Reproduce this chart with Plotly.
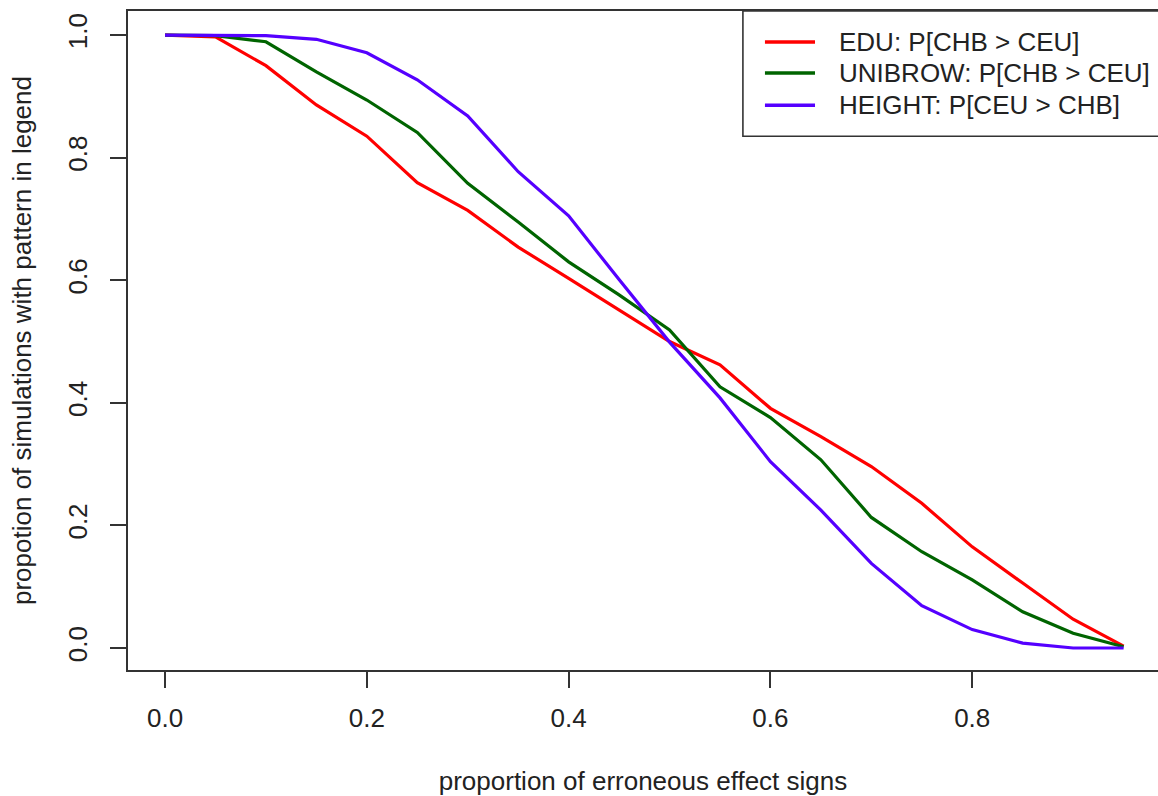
import plotly.graph_objects as go

# Data
x_vals = [0.00, 0.05, 0.10, 0.15, 0.20, 0.25, 0.30, 0.35, 0.40, 0.45,
          0.50, 0.55, 0.60, 0.65, 0.70, 0.75, 0.80, 0.85, 0.90, 0.95]

edu = [1.000, 0.997, 0.950, 0.886, 0.835, 0.759, 0.714, 0.654, 0.603, 0.551,
       0.500, 0.462, 0.391, 0.345, 0.296, 0.236, 0.165, 0.106, 0.047, 0.003]
unibrow = [1.000, 0.999, 0.989, 0.940, 0.894, 0.841, 0.758, 0.695, 0.630, 0.576,
           0.519, 0.426, 0.376, 0.307, 0.213, 0.157, 0.111, 0.059, 0.024, 0.002]
height = [1.000, 1.000, 0.999, 0.993, 0.971, 0.927, 0.868, 0.777, 0.705, 0.601,
          0.499, 0.408, 0.304, 0.225, 0.138, 0.069, 0.030, 0.008, 0.000, 0.000]

series_names = ["EDU: P[CHB > CEU]", "UNIBROW: P[CHB > CEU]", "HEIGHT: P[CEU > CHB]"]
series_values = [edu, unibrow, height]
series_colors = ["#FF0000", "#006400", "#5500FF"]

x_ticks = [0.0, 0.2, 0.4, 0.6, 0.8]
y_ticks = [0.0, 0.2, 0.4, 0.6, 0.8, 1.0]

x_title = "proportion of erroneous effect signs"
y_title = "propotion of simulations with pattern in legend"

FONT = "Liberation Sans, Arial, Helvetica, sans-serif"
FS = 26
AX = "#333333"
TXT = "#222222"

fig = go.Figure()
for name, vals, col in zip(series_names, series_values, series_colors):
    fig.add_trace(go.Scatter(x=x_vals, y=vals, mode="lines", name=name,
                             line=dict(color=col, width=3.2), showlegend=False))

# Legend drawn R-style: box anchored at top-right of the plot region
shapes = [dict(type="rect", xref="paper", yref="paper",
               x0=0.597, x1=1.05, y0=0.810, y1=1.0,
               line=dict(color=AX, width=1.6), fillcolor="rgba(0,0,0,0)", layer="above")]
annotations = []
row_y = [0.953, 0.906, 0.857]
for name, col, yy in zip(series_names, series_colors, row_y):
    shapes.append(dict(type="line", xref="paper", yref="paper",
                       x0=0.6184, x1=0.667, y0=yy, y1=yy,
                       line=dict(color=col, width=3.4)))
    annotations.append(dict(xref="paper", yref="paper", x=0.6883, y=yy,
                            xanchor="left", yanchor="middle", showarrow=False,
                            text=name, font=dict(family=FONT, size=FS, color=TXT)))

fig.update_layout(
    width=1158, height=796,
    margin=dict(l=128, r=0, t=11, b=126),
    paper_bgcolor="white", plot_bgcolor="white",
    font=dict(family=FONT, size=FS, color=TXT),
    showlegend=False,
    shapes=shapes,
    annotations=annotations,
)

fig.update_xaxes(range=[-0.0367, 0.9841], tickvals=x_ticks,
                 ticktext=[f"{v:.1f}" for v in x_ticks],
                 showgrid=False, zeroline=False, automargin=False,
                 showline=True, mirror=True, linecolor=AX, linewidth=1.6,
                 ticks="outside", ticklen=16, tickwidth=1.6, tickcolor=AX,
                 ticklabelstandoff=8,
                 title=dict(text=x_title, standoff=48, font=dict(size=FS)))
fig.update_yaxes(range=[-0.0359, 1.0392], tickvals=y_ticks,
                 ticktext=[f"{v:.1f}" for v in y_ticks],
                 showgrid=False, zeroline=False, automargin=False,
                 showline=True, mirror=False, linecolor=AX, linewidth=1.6,
                 ticks="outside", ticklen=16, tickwidth=1.6, tickcolor=AX,
                 tickangle=-90, ticklabelstandoff=13,
                 title=dict(text=y_title, standoff=24, font=dict(size=FS)))

fig.write_html("out.html",
               config={"displayModeBar": False},
               post_script="document.body.style.margin='0';document.body.style.overflow='hidden';")
